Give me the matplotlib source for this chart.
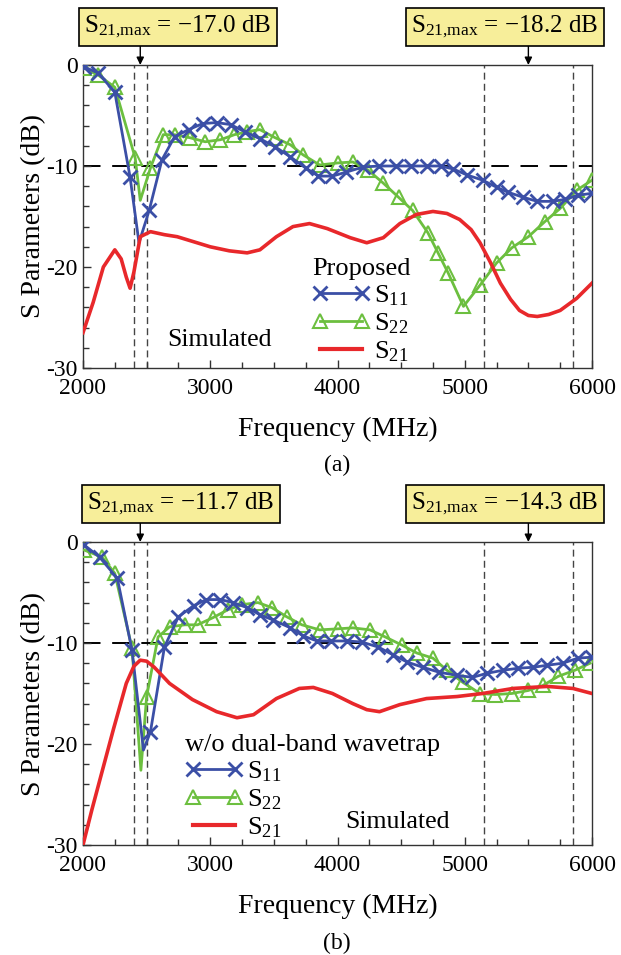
import matplotlib
matplotlib.use("Agg")
import matplotlib.pyplot as plt
from matplotlib.lines import Line2D

plt.rcParams['font.family'] = ['Liberation Serif', 'DejaVu Serif']
plt.rcParams['mathtext.fontset'] = 'custom'
plt.rcParams['mathtext.rm'] = 'Liberation Serif'
plt.rcParams['mathtext.default'] = 'regular'

# ---------------- data (a) Proposed ----------------
f11a = [2010, 2120, 2250, 2370, 2440, 2520, 2620, 2720, 2830, 2940, 3050, 3160, 3270, 3390,
        3510, 3630, 3750, 3850, 3960, 4070, 4200, 4330, 4460, 4580, 4700, 4810, 4910, 5020,
        5140, 5250, 5340, 5460, 5570, 5690, 5790, 5890, 6000]
s11a = [-0.2, -0.8, -2.7, -11.1, -17.6, -14.4, -9.4, -7.1, -6.4, -5.8, -5.7, -5.9, -6.6, -7.3,
        -8.1, -9.1, -10.2, -11.0, -11.0, -10.6, -10.1, -10.0, -10.0, -10.0, -10.0, -10.0, -10.3, -10.9,
        -11.4, -12.1, -12.6, -13.1, -13.5, -13.5, -13.3, -12.9, -12.7]
f22a = [2010, 2120, 2250, 2410, 2450, 2530, 2630, 2720, 2840, 2960, 3080, 3190, 3290, 3390,
        3510, 3630, 3730, 3860, 4000, 4120, 4240, 4360, 4480, 4590, 4710, 4790, 4870, 4990,
        5120, 5250, 5370, 5500, 5630, 5750, 5880, 6000]
s22a = [-0.3, -1.0, -2.2, -9.2, -13.4, -10.2, -6.9, -6.9, -7.2, -7.6, -7.4, -6.9, -6.6, -6.4,
        -7.2, -7.9, -8.9, -9.9, -9.7, -9.6, -10.4, -11.7, -13.1, -14.4, -16.6, -18.6, -20.6, -23.9,
        -21.8, -19.6, -18.1, -17.0, -15.5, -14.2, -12.4, -11.4]
f21a = [2000, 2080, 2160, 2250, 2300, 2340, 2370, 2400, 2450, 2530, 2640, 2740, 2870, 3000,
        3150, 3290, 3390, 3520, 3650, 3780, 3920, 4100, 4230, 4360, 4490, 4620, 4750, 4860,
        4960, 5050, 5120, 5200, 5280, 5360, 5430, 5500, 5570, 5660, 5750, 5880, 6000]
s21a = [-26.5, -23.5, -20.0, -18.3, -19.2, -21.0, -22.1, -20.5, -17.0, -16.5, -16.8, -17.0, -17.5, -18.0,
        -18.4, -18.6, -18.3, -17.0, -16.0, -15.7, -16.2, -17.1, -17.6, -17.1, -15.7, -14.8, -14.5, -14.7,
        -15.3, -16.3, -17.6, -19.5, -21.6, -23.2, -24.3, -24.8, -24.9, -24.7, -24.3, -23.1, -21.6]

# ---------------- data (b) w/o dual-band wavetrap ----------------
f11b = [2010, 2130, 2270, 2385, 2475, 2530, 2640, 2750, 2870, 2970, 3080, 3180, 3290, 3390,
        3490, 3630, 3730, 3840, 3950, 4075, 4190, 4320, 4440, 4550, 4670, 4800, 4940, 5060,
        5175, 5300, 5420, 5540, 5650, 5770, 5890, 6000]
s11b = [-0.3, -1.5, -3.6, -10.7, -20.6, -18.8, -10.4, -7.4, -6.3, -5.7, -5.7, -6.0, -6.5, -7.2,
        -7.7, -8.5, -9.3, -9.8, -9.8, -9.8, -9.9, -10.4, -11.2, -11.9, -12.4, -12.9, -13.2, -13.4,
        -13.0, -12.7, -12.5, -12.4, -12.2, -12.0, -11.5, -11.4]
f22b = [2010, 2150, 2250, 2385, 2455, 2500, 2590, 2680, 2800, 2900, 3020, 3140, 3250, 3375,
        3485, 3600, 3720, 3860, 4000, 4120, 4255, 4375, 4505, 4625, 4750, 4860, 4985, 5120,
        5240, 5370, 5500, 5615, 5735, 5865, 5985]
s22b = [-0.8, -1.5, -3.1, -10.5, -22.6, -15.3, -9.4, -8.4, -8.2, -8.2, -7.5, -6.7, -6.2, -6.0,
        -6.5, -7.4, -8.2, -8.7, -8.6, -8.5, -8.7, -9.4, -10.2, -11.0, -11.5, -12.7, -13.9, -15.0,
        -15.1, -15.0, -14.7, -14.2, -13.3, -12.7, -12.0]
f21b = [2000, 2070, 2140, 2240, 2340, 2400, 2450, 2500, 2560, 2680, 2860, 3050, 3210, 3340,
        3520, 3700, 3810, 3960, 4120, 4230, 4330, 4490, 4700, 4940, 5140, 5380, 5650, 5850, 6000]
s21b = [-30.0, -26.5, -23.2, -18.5, -14.0, -12.3, -11.7, -11.8, -12.4, -14.0, -15.6, -16.8, -17.4, -17.1,
        -15.5, -14.5, -14.4, -15.0, -16.0, -16.6, -16.8, -16.1, -15.5, -15.3, -15.0, -14.5, -14.3, -14.5, -15.0]

band_lines = [2400, 2500, 5150, 5850]
arrow_freqs = [2450, 5500]
box_texts_a = ["S$_{21{,}max}$ = \u221217.0 dB", "S$_{21{,}max}$ = \u221218.2 dB"]
box_texts_b = ["S$_{21{,}max}$ = \u221211.7 dB", "S$_{21{,}max}$ = \u221214.3 dB"]
xticks = [2000, 3000, 4000, 5000, 6000]
yticks = [0, -10, -20, -30]
ytick_labels = ["0", "-10", "-20", "-30"]

BLUE = '#3b4fa6'
GREEN = '#6cbf3f'
RED = '#e8282b'
BOXC = '#f7ee9a'
FS = 17
FL = 19

W, H = 621, 955
fig = plt.figure(figsize=(W / 100, H / 100), dpi=100)


def fx(px):
    return px / W


def fy(py):
    return 1 - py / H


def make_axes(top_px, bottom_px):
    return fig.add_axes([fx(83), fy(bottom_px), fx(592) - fx(83), fy(top_px) - fy(bottom_px)])


def draw_panel(ax, f11, s11, skip11, f22, s22, skip22, f21, s21, title, leg_xy, sim_xy,
               boxes, box_cy, box_bottom, box_cx, panel_label, label_y):
    ax.set_xlim(2000, 6000)
    ax.set_ylim(-30, 0)
    for b in band_lines:
        ax.axvline(b, color='#444444', lw=1.0, ls=(0, (5, 3)), zorder=1)
    ax.axhline(-10, color='black', lw=1.4, ls=(0, (9, 6)), zorder=1)
    me11 = [i for i in range(len(f11)) if i != skip11]
    me22 = [i for i in range(len(f22)) if i != skip22]
    ax.plot(f22, s22, color=GREEN, lw=2, marker='^', ms=10, mfc='none', mec=GREEN, mew=1.5,
            markevery=me22, zorder=3)
    ax.plot(f11, s11, color=BLUE, lw=2, marker='x', ms=10, mew=2, markevery=me11, zorder=4)
    ax.plot(f21, s21, color=RED, lw=2.6, zorder=5)

    ax.set_xticks(xticks)
    ax.set_xticklabels([str(v) for v in xticks])
    ax.set_yticks(yticks)
    ax.set_yticklabels(ytick_labels)
    ax.set_xticks([2000 + 250 * i for i in range(17)], minor=True)
    ax.set_yticks([-2 * i for i in range(16)], minor=True)
    ax.tick_params(which='both', direction='in', top=False, right=False, labelsize=FS,
                   color='#333333', width=1)
    ax.tick_params(which='major', length=6)
    ax.tick_params(axis='x', which='major', pad=7)
    ax.tick_params(axis='y', which='major', pad=4)
    ax.tick_params(which='minor', length=4)
    for s in ax.spines.values():
        s.set_linewidth(1.0)
        s.set_color('#333333')
    ax.set_ylabel('S Parameters (dB)', fontsize=20, labelpad=0)
    ax.set_xlabel('Frequency (MHz)', fontsize=20, labelpad=13)

    handles = [
        Line2D([], [], color=BLUE, lw=2, marker='x', ms=10, mew=2),
        Line2D([], [], color=GREEN, lw=2, marker='^', ms=10, mfc='none', mec=GREEN, mew=1.5),
        Line2D([], [], color=RED, lw=3),
    ]
    leg = ax.legend(handles, ['S$_{11}$', 'S$_{22}$', 'S$_{21}$'], title=title,
                    loc='upper left', bbox_to_anchor=leg_xy, frameon=False, fontsize=FL,
                    title_fontsize=FL, numpoints=2, handlelength=2.2, handletextpad=0.15,
                    labelspacing=0.12, borderpad=0, borderaxespad=0, alignment='left')
    leg.set_zorder(6)
    ax.text(sim_xy[0], sim_xy[1], 'Simulated', fontsize=18.5, ha='center', va='center')

    for txt, cx, fa in zip(boxes, box_cx, arrow_freqs):
        fig.text(fx(cx), fy(box_cy), txt, fontsize=18, ha='center', va='center',
                 bbox=dict(boxstyle='square,pad=0.22', fc=BOXC, ec='black', lw=1.2))
        ax.annotate('', xy=(fa, 0), xycoords='data',
                    xytext=(fa, fy(box_bottom)), textcoords=('data', 'figure fraction'),
                    arrowprops=dict(arrowstyle='-|>,head_width=0.22,head_length=0.45',
                                    color='black', lw=1.0, shrinkA=0, shrinkB=0),
                    annotation_clip=False)
    fig.text(fx(337), fy(label_y), panel_label, fontsize=FS, ha='center', va='center')


ax1 = make_axes(65, 368)
draw_panel(ax1, f11a, s11a, 4, f22a, s22a, 4, f21a, s21a, 'Proposed', (0.45, 0.362), (3073, -27.2),
           box_texts_a, 27, 44, [178, 505], '(a)', 465)

ax2 = make_axes(542, 845)
draw_panel(ax2, f11b, s11b, 4, f22b, s22b, 4, f21b, s21b, 'w/o dual-band wavetrap', (0.2, 0.365),
           (4471, -27.7), box_texts_b, 504, 523, [181, 505], '(b)', 943)

fig.savefig('out.png', dpi=100, facecolor='white')
